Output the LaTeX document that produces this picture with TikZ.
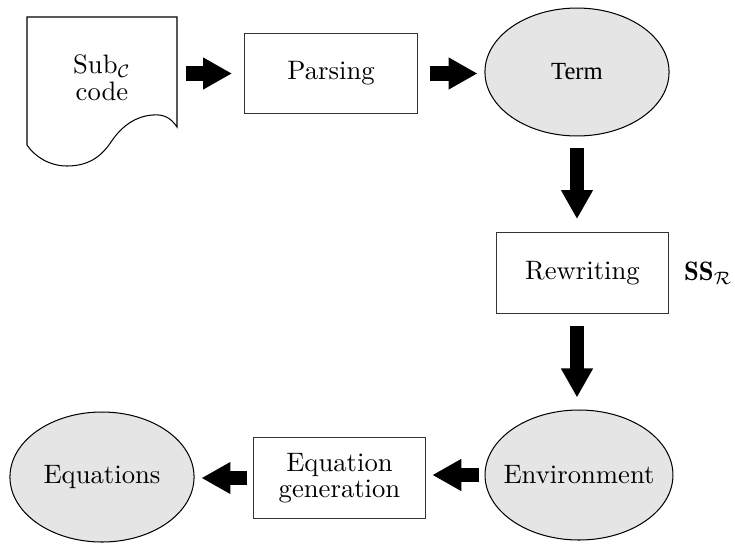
\documentclass[tikz,border=0pt]{standalone}
\usepackage{fontspec}
\usetikzlibrary{arrows.meta,shapes.geometric}
\newfontfamily\termfont{Liberation Serif}
\tikzset{
  every node/.style={font=\fontsize{10.4}{12.2}\selectfont},
  procbox/.style={draw=black!80, line width=0.5pt, minimum width=67.3pt, minimum height=31.4pt, inner sep=0pt, align=center},
  dataell/.style={ellipse, draw, fill=black!10, line width=0.4pt, inner ysep=0pt, inner xsep=-12pt},
  fatarrow/.style={line width=5.6pt, -{Triangle[length=11.3pt,width=11.7pt]}},
}

\begin{document}
\begin{tikzpicture}[x=0.39pt, y=-0.39pt]
  %%%%% START %%%%%
  \useasboundingbox (0, 0) rectangle (735, 544);

  % source document
  \draw[line width=0.4pt] (27, 17) -- (177, 17) -- (177, 127)
    .. controls (171, 118) and (164, 114) .. (153, 115)
    .. controls (135, 116) and (121, 127) .. (111, 142)
    .. controls (101, 157) and (88, 166) .. (67, 166)
    .. controls (50, 166) and (35, 157) .. (27, 145) -- cycle;
  \node[align=center, minimum width=58.5pt, inner sep=0pt] (code) at (102, 78) {Sub$_{\mathcal{C}}$\\[-1.5pt]code};

  \node[procbox] (parse) at (331, 73.5) {Parsing};
  \node[dataell, minimum width=71.8pt, minimum height=49.9pt] (term) at (577, 72) {\termfont\fontsize{9.6}{11}\selectfont Term};

  \node[procbox] (rewrite) at (582.5, 273) {Rewriting};
  \node[anchor=west, inner sep=0pt] (ssr) at ([xshift=5.5pt]rewrite.east) {$\mathbf{SS}_{\mathcal{R}}$};

  \node[dataell, minimum width=73.3pt, minimum height=50.7pt] (env) at (579, 475) {Environment};
  \node[procbox] (gen) at (339.5, 478) {Equation\\[-2pt]generation};
  \node[dataell, minimum width=71.8pt, minimum height=50.7pt] (eqs) at (102, 477) {Equations};

  % fat arrows
  \draw[fatarrow, shorten <=3.5pt, shorten >=4.7pt] (code.east |- parse.west) -- (parse.west);
  \draw[fatarrow, shorten <=4.7pt, shorten >=2.7pt] (parse.east) -- (parse.east -| term.west);
  \draw[fatarrow, shorten <=4.3pt, shorten >=5.1pt] (term.south) -- (term.south |- rewrite.north);
  \draw[fatarrow, shorten <=4.7pt, shorten >=4.7pt] (term.south |- rewrite.south) -- (term.south |- env.north);
  \draw[fatarrow, shorten <=2pt, shorten >=2.3pt] (env.west) -- (env.west -| gen.east);
  \draw[fatarrow, shorten <=2pt, shorten >=2.7pt] (gen.west) -- (gen.west -| eqs.east);

  %%%%% END %%%%%
\end{tikzpicture}
\end{document}
